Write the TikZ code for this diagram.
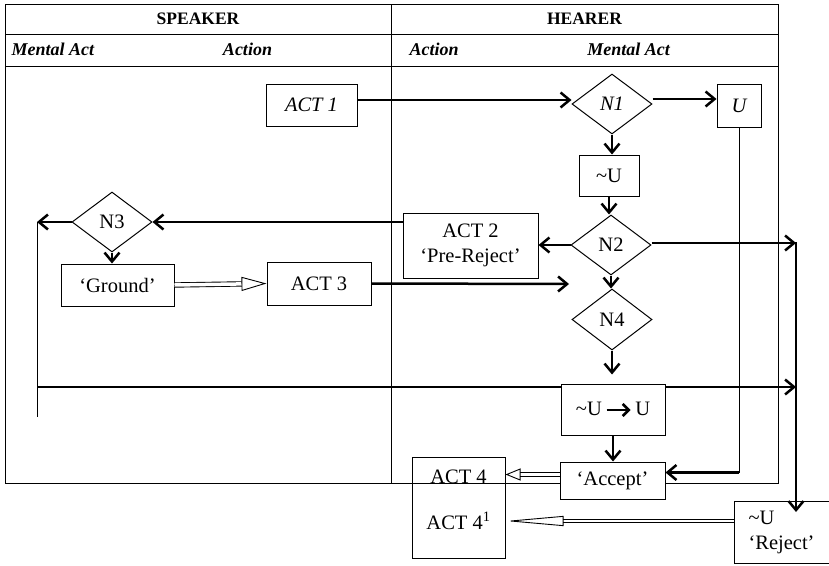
\documentclass[tikz,border=0pt]{standalone}
\usepackage{fontspec}
\setmainfont{Liberation Serif}
\usetikzlibrary{arrows.meta,shapes.geometric,calc}
\begin{document}
\begin{tikzpicture}[x=1pt,y=-1pt,
  body/.style={font=\fontsize{20.5}{25}\selectfont},
  box/.style={draw, line width=1pt, inner sep=0pt, fill=white, body},
  dia/.style={draw, diamond, line width=1pt, inner sep=0pt, minimum width=80pt, minimum height=60pt, fill=white, body},
  thin/.style={line width=1pt},
  arr/.style={line width=2.5pt, -{Straight Barb[length=9pt,width=15pt,line width=2.5pt]}},
  hol/.style={draw, line width=0.9pt, double, double distance=#1},
  hdr/.style={font=\fontsize{17.5}{20}\selectfont\bfseries},
  sub/.style={font=\fontsize{18}{20}\selectfont\bfseries\itshape}
]
\useasboundingbox (0,0) rectangle (829,565);
% table
\draw[thin] (5,4) rectangle (778,483);
\draw[thin] (5,34) -- (778,34);
\draw[thin] (5,66) -- (778,66);
\draw[thin] (391,4) -- (391,483);
\node[hdr] (spk) at (198,19) {SPEAKER};
\node[hdr] (hea) at (584.5,19) {HEARER};
\node[sub, anchor=west] (sma) at (8,49) {Mental Act};
\node[sub] (sac) at (247.5,49) {Action};
\node[sub, anchor=west] (hac) at (406,49) {Action};
\node[sub] (hma) at (628.5,49) {Mental Act};

% nodes
\node[box, minimum width=91pt, minimum height=42pt, font=\fontsize{20.5}{25}\selectfont\itshape] (act1) at (311.5,105) {ACT 1};
\node[dia, font=\fontsize{20.5}{25}\selectfont\itshape] (n1) at (612,104) {N1};
\node[box, minimum width=44pt, minimum height=43pt, font=\fontsize{20.5}{25}\selectfont\itshape] (u) at (739,105.5) {U};
\node[box, minimum width=60pt, minimum height=41pt] (nu) at (609,175.5) {\textasciitilde U};
\node[dia] (n2) at (611,245) {N2};
\node[box, minimum width=135pt, minimum height=65pt, align=center] (act2) at (470.5,245.5) {ACT 2\\`Pre-Reject'};
\node[dia] (n3) at (112,222) {N3};
\node[box, minimum width=113pt, minimum height=42pt] (ground) at (117.5,285) {`Ground'};
\node[box, minimum width=104pt, minimum height=43pt] (act3) at (319,283.5) {ACT 3};
\node[dia, minimum height=61pt] (n4) at (612,319.5) {N4};
\coordinate (a3end) at (569,284);

% long lines
\coordinate (lvt) at (37,222);
\coordinate (lvb) at (37,417);
\coordinate (hl) at (37,387);
\coordinate (hr) at (796,387);
\coordinate (rv) at (796,242);
\draw[thin] (lvt) -- (lvb);
\draw[arr] (hl) -- (hr);

\node[box, minimum width=104pt, minimum height=51pt] (nuu) at (613,409.5) {\textasciitilde U\,\tikz[baseline=-0.55ex]\draw[line width=2.6pt,-{Straight Barb[length=6pt,width=12pt,line width=2.6pt]}] (0pt,0pt) -- (24pt,0pt);\,U};
\node[box, minimum width=105pt, minimum height=37pt] (accept) at (612.5,480.5) {`Accept'};
\node[draw, line width=1pt, minimum width=93pt, minimum height=101pt] (act4) at (458.5,507.5) {};
\node[body] (act4a) at (458.5,477) {ACT 4};
\node[body] (act4b) at (458.5,521) {ACT 4$^{\mathrm{1}}$};
\node[box, minimum width=110pt, minimum height=62pt, anchor=north west, align=left, text width=100pt, inner sep=0pt] (reject) at (734,501) {\hspace*{9pt}\textasciitilde U\\\hspace*{9pt}`Reject'};

% connectors
\draw[arr] ([yshift=5pt]act1.east) -- ([yshift=5pt]act1.east -| n1.west);
\draw[arr] ([yshift=5pt]n1.east) -- ([yshift=5pt]n1.east -| u.west);
\draw[arr] (n1.south) -- (n1.south |- nu.north);
\draw[arr] (nu.south) -- (nu.south |- n2.north);
\draw[arr] (n2.west) -- (n2.west -| act2.east);
\draw[arr] (act2.west |- n3.east) -- (n3.east);
\draw[arr] (n3.west) -- (n3.west -| lvt);
\draw[arr] (n3.south) -- (n3.south |- ground.north);
\draw[arr] (act3.east) -- (a3end);
\draw[arr] (n2.south) -- (n2.south |- n4.north);
\draw[arr] (n4.south) -- ([yshift=9pt]n4.south |- nuu.north);
\draw[arr] (nuu.south) -- (nuu.south |- accept.north);
\draw[arr] ([yshift=2pt]n2.east) -- ([yshift=2pt]n2.east -| rv);
\draw[line width=2.5pt] (rv) -- (hr);
\draw[arr, shorten >=-11pt] (hr) -- (hr |- reject.north);
\draw[thin] (u.south) |- ([yshift=8pt]accept.east);
\draw[arr] ([yshift=8pt]accept.east -| u.south) -- ([yshift=8pt]accept.east);
% hollow arrows
\draw[hol=3.5pt, -{Triangle[open, length=25pt, width=14pt, line width=0.9pt]}] (ground.east) -- (act3.west);
\draw[hol=2.5pt, -{Triangle[open, length=15pt, width=12pt, line width=0.9pt]}] ([yshift=6pt]accept.west) -- ([yshift=6pt]accept.west -| act4.east);
\draw[hol=2.5pt, -{Triangle[open, length=58pt, width=10pt, line width=0.9pt]}] (reject.west |- act4b) -- (act4b -| act4.east);
\end{tikzpicture}
\end{document}
